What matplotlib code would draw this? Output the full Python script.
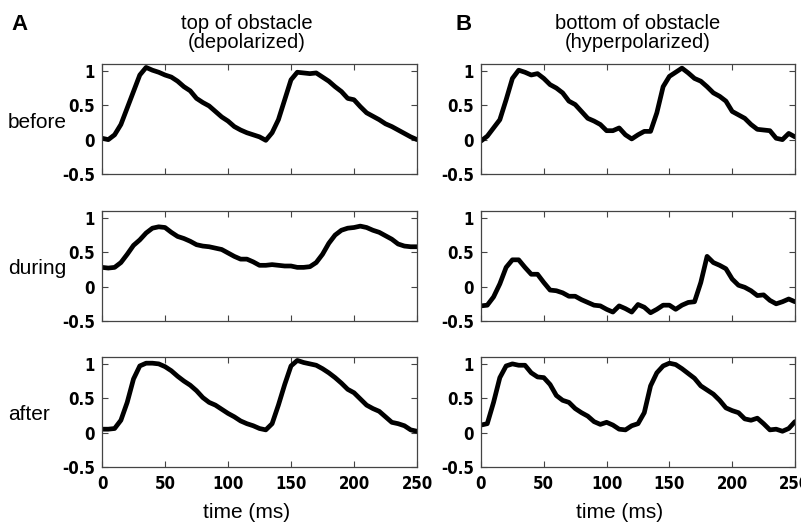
import numpy as np
import matplotlib
matplotlib.use("Agg")
import matplotlib.pyplot as plt
from matplotlib import font_manager

# time base: samples every 5 ms
t = np.arange(0, 251, 5)

# top of obstacle (depolarized)
a_before = [0.02, 0.00, 0.07, 0.22, 0.46, 0.70, 0.94, 1.05, 1.01, 0.98,
            0.94, 0.91, 0.85, 0.77, 0.71, 0.60, 0.54, 0.49, 0.41, 0.33,
            0.27, 0.19, 0.14, 0.10, 0.07, 0.04, -0.01, 0.10, 0.29, 0.58,
            0.87, 0.98, 0.97, 0.96, 0.97, 0.91, 0.85, 0.77, 0.70, 0.60,
            0.58, 0.48, 0.39, 0.34, 0.29, 0.23, 0.19, 0.14, 0.09, 0.04, 0.00]
a_during = [0.28, 0.27, 0.28, 0.35, 0.47, 0.60, 0.68, 0.78, 0.85, 0.87,
            0.86, 0.79, 0.73, 0.70, 0.66, 0.61, 0.59, 0.58, 0.56, 0.54,
            0.49, 0.44, 0.40, 0.40, 0.36, 0.31, 0.31, 0.32, 0.31, 0.30,
            0.30, 0.28, 0.28, 0.29, 0.35, 0.47, 0.63, 0.75, 0.82, 0.85,
            0.86, 0.88, 0.86, 0.82, 0.79, 0.74, 0.69, 0.62, 0.59, 0.58, 0.58]
a_after = [0.05, 0.05, 0.06, 0.18, 0.44, 0.78, 0.97, 1.01, 1.01, 1.00,
           0.96, 0.90, 0.82, 0.75, 0.69, 0.61, 0.51, 0.44, 0.40, 0.34,
           0.28, 0.23, 0.17, 0.13, 0.10, 0.06, 0.04, 0.13, 0.40, 0.70,
           0.97, 1.05, 1.02, 1.00, 0.98, 0.93, 0.87, 0.80, 0.72, 0.63,
           0.58, 0.49, 0.40, 0.35, 0.31, 0.23, 0.15, 0.13, 0.10, 0.04, 0.02]

# bottom of obstacle (hyperpolarized)
b_before = [-0.02, 0.05, 0.17, 0.29, 0.58, 0.89, 1.01, 0.98, 0.94, 0.96,
            0.89, 0.80, 0.75, 0.68, 0.56, 0.51, 0.41, 0.31, 0.27, 0.22,
            0.13, 0.13, 0.17, 0.07, 0.01, 0.07, 0.12, 0.12, 0.39, 0.77,
            0.92, 0.98, 1.04, 0.97, 0.89, 0.85, 0.77, 0.68, 0.63, 0.56,
            0.41, 0.36, 0.31, 0.22, 0.15, 0.14, 0.13, 0.02, 0.00, 0.09, 0.04]
b_during = [-0.28, -0.27, -0.15, 0.04, 0.28, 0.39, 0.39, 0.28, 0.18, 0.18,
            0.06, -0.05, -0.06, -0.09, -0.14, -0.14, -0.19, -0.23, -0.27, -0.28,
            -0.33, -0.37, -0.28, -0.32, -0.37, -0.26, -0.30, -0.38, -0.33, -0.27,
            -0.27, -0.33, -0.27, -0.23, -0.22, 0.06, 0.44, 0.35, 0.31, 0.26,
            0.11, 0.02, -0.01, -0.06, -0.13, -0.12, -0.20, -0.25, -0.22, -0.18, -0.22]
b_after = [0.11, 0.13, 0.44, 0.80, 0.97, 1.00, 0.98, 0.98, 0.87, 0.81,
           0.80, 0.70, 0.54, 0.47, 0.44, 0.35, 0.29, 0.24, 0.16, 0.12,
           0.15, 0.11, 0.05, 0.04, 0.10, 0.13, 0.29, 0.68, 0.87, 0.97,
           1.01, 0.99, 0.93, 0.86, 0.79, 0.68, 0.62, 0.56, 0.47, 0.36,
           0.32, 0.29, 0.20, 0.18, 0.21, 0.13, 0.04, 0.05, 0.02, 0.06, 0.16]

row_labels = ["before", "during", "after"]
col_titles = ["top of obstacle\n(depolarized)", "bottom of obstacle\n(hyperpolarized)"]
panel_letters = ["A", "B"]
yticks = [-0.5, 0, 0.5, 1]
ytick_labels = ["-0.5", "0", "0.5", "1"]
xticks = [0, 50, 100, 150, 200, 250]

data = [[a_before, b_before], [a_during, b_during], [a_after, b_after]]


def narrow_bold_font():
    """Look for an installed condensed bold sans face for the tick labels."""
    narrow = ("condensed", "semi-condensed", "extra-condensed", "ultra-condensed")
    best = None
    for f in font_manager.fontManager.ttflist:
        w = f.weight if isinstance(f.weight, int) else 700 if "bold" in str(f.weight) else 400
        st = str(f.stretch)
        is_narrow = st in narrow or "Narrow" in f.name or "Condensed" in f.name \
            or (isinstance(f.stretch, int) and f.stretch < 500)
        if is_narrow and w >= 600 and f.style == "normal":
            score = 0 if "Liberation" in f.name else 1 if "Sans" in f.name else 2
            if best is None or score < best[0]:
                best = (score, f.fname)
    if best:
        return font_manager.FontProperties(fname=best[1], size=12), True
    return font_manager.FontProperties(family="Liberation Sans", weight="bold", size=11), False


tick_fp, found_narrow = narrow_bold_font()
text_font = "Liberation Sans"

W, H = 801, 523
fig = plt.figure(figsize=(W / 100, H / 100), dpi=100)

col_px = [(102, 417), (481, 795)]
row_px = [(64, 174), (211, 321), (357, 467)]

for r, (top, bot) in enumerate(row_px):
    for c, (left, right) in enumerate(col_px):
        ax = fig.add_axes([left / W, 1 - bot / H, (right - left) / W, (bot - top) / H])
        ax.plot(t, data[r][c], color="black", lw=3.4, solid_capstyle="round",
                solid_joinstyle="round")
        ax.set_xlim(0, 250)
        ax.set_ylim(-0.5, 1.1)
        ax.set_yticks(yticks)
        ax.set_yticklabels(ytick_labels)
        ax.set_xticks(xticks)
        ax.tick_params(direction="in", length=4, width=0.8, color="#444444",
                       top=True, right=True, pad=5)
        for lab in ax.get_yticklabels() + ax.get_xticklabels():
            lab.set_fontproperties(tick_fp)
        if r < 2:
            ax.set_xticklabels([])
        else:
            ax.tick_params(axis="x", pad=6)
        for s in ax.spines.values():
            s.set_color("#444444")
            s.set_linewidth(0.9)

# row labels
for r, (top, bot) in enumerate(row_px):
    fig.text(8 / W, 1 - ((top + bot) / 2 + 3) / H, row_labels[r], ha="left", va="center",
             fontsize=15, family=text_font)

# column titles and panel letters
title_x = [247, 638]
letter_x = [11, 455]
for c in range(2):
    fig.text(title_x[c] / W, 1 - 33 / H, col_titles[c], ha="center", va="center",
             fontsize=14.5, family=text_font, linespacing=1.0)
    fig.text(letter_x[c] / W, 1 - 24 / H, panel_letters[c], ha="left", va="center",
             fontsize=16, fontweight="bold", family=text_font)

xlabel_x = [247, 620]
for c in range(2):
    fig.text(xlabel_x[c] / W, 1 - 512 / H, "time (ms)", ha="center", va="center",
             fontsize=15, family=text_font)

fig.savefig("out.png", dpi=100)
